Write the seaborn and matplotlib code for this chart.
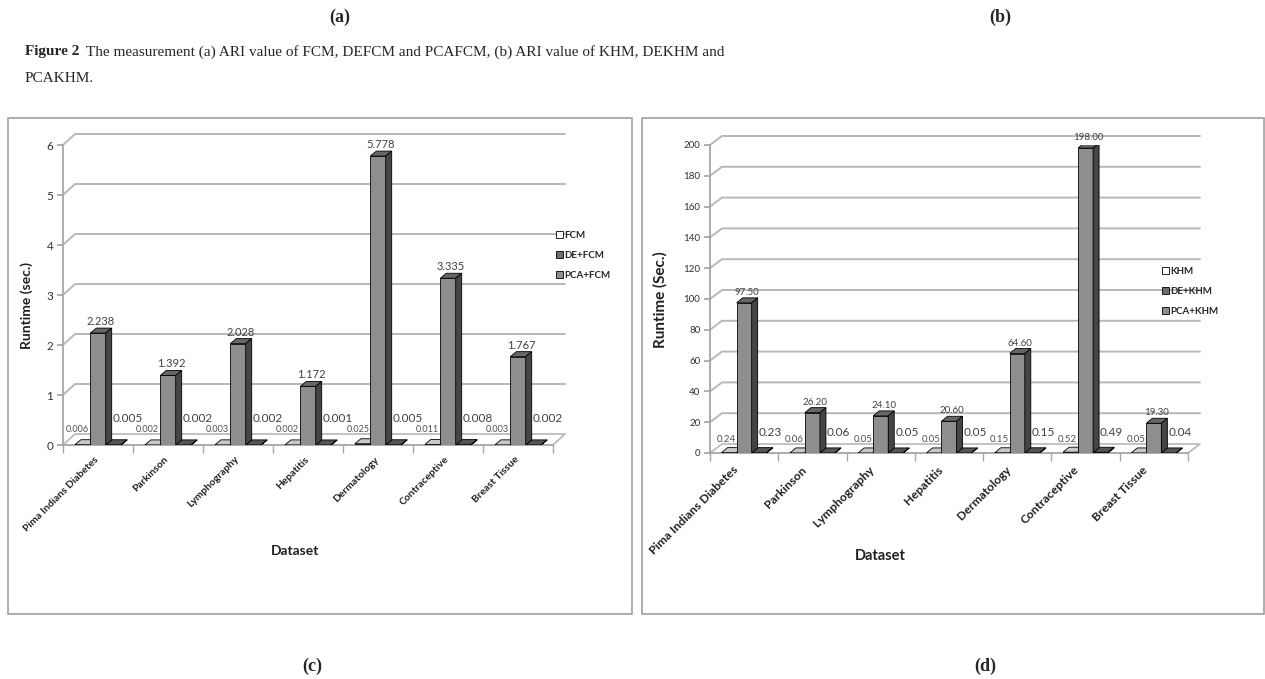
import matplotlib
matplotlib.use('Agg')
import matplotlib.pyplot as plt
import matplotlib.transforms as mtransforms
import seaborn as sns
import pandas as pd
from matplotlib.patches import Polygon, Rectangle, Patch

# datos
datasets = ['Pima Indians Diabetes', 'Parkinson', 'Lymphography', 'Hepatitis',
            'Dermatology', 'Contraceptive', 'Breast Tissue']

fcm = [0.006, 0.002, 0.003, 0.002, 0.025, 0.011, 0.003]
de_fcm = [2.238, 1.392, 2.028, 1.172, 5.778, 3.335, 1.767]
pca_fcm = [0.005, 0.002, 0.002, 0.001, 0.005, 0.008, 0.002]

khm = [0.24, 0.06, 0.05, 0.05, 0.15, 0.52, 0.05]
de_khm = [97.50, 26.20, 24.10, 20.60, 64.60, 198.00, 19.30]
pca_khm = [0.23, 0.06, 0.05, 0.05, 0.15, 0.49, 0.04]

W, H = 1265, 679
GRIS_EJE = '#a6a6a6'
FRENTE = ['#e0e0e0', '#8e8e8e', '#7a7a7a']
TAPA = ['#c8c8c8', '#666666', '#555555']
LADO = ['#b5b5b5', '#454545', '#3c3c3c']

sns.set_theme(style='white')
plt.rcParams['font.family'] = ['Lato', 'DejaVu Sans']


def panel(fig, caja, nombres, series, ytop, yticks, fmt, cfg):
    x0, y0, x1, y1 = caja
    ax = fig.add_axes([x0 / W, 1 - y0 / H, (x1 - x0) / W, (y0 - y1) / H])
    df = pd.DataFrame({
        'dataset': datasets * 3,
        'metodo': sum([[n] * len(datasets) for n in nombres], []),
        'runtime': sum(series, []),
    })
    sns.barplot(data=df, x='dataset', y='runtime', hue='metodo', order=datasets,
                hue_order=nombres, palette=FRENTE, saturation=1, width=0.66,
                edgecolor='black', linewidth=0.6, ax=ax, legend=False, zorder=3)
    ax.set_xlim(-0.5, len(datasets) - 0.5)
    ax.set_ylim(0, ytop)

    # conversión píxel -> datos para el efecto 3D
    px_x = len(datasets) / (x1 - x0)
    px_y = ytop / (y0 - y1)
    ddx, ddy = 6 * px_x, 5 * px_y

    for i, cont in enumerate(ax.containers):
        for j, r in enumerate(cont):
            x, w, h = r.get_x(), r.get_width(), r.get_height()
            z = 3 + (0.1 if i == 1 else 0)
            ax.add_patch(Polygon([(x, h), (x + ddx, h + ddy), (x + w + ddx, h + ddy), (x + w, h)],
                                 closed=True, fc=TAPA[i], ec='black', lw=0.6, zorder=z))
            ax.add_patch(Polygon([(x + w, 0), (x + w + ddx, ddy), (x + w + ddx, h + ddy), (x + w, h)],
                                 closed=True, fc=LADO[i], ec='black', lw=0.6, zorder=z))
            r.set_zorder(z)

    de = ax.containers[1]
    for j, r in enumerate(de):
        x, w, h = r.get_x(), r.get_width(), r.get_height()
        ax.annotate(fmt.format(series[1][j]), xy=(x + w / 2, h), xytext=(3, 6),
                    textcoords='offset pixels', ha='center', va='bottom',
                    fontsize=cfg['fs_de'], color='#404040')
        ax.annotate(fmt.format(series[0][j]), xy=(x, 0), xytext=(-1, cfg['dy_izq']),
                    textcoords='offset pixels', ha='right', va='center',
                    fontsize=cfg['fs_izq'], color='#505050')
        ax.annotate(fmt.format(series[2][j]), xy=(x + w, 0), xytext=(7, cfg['dy_der']),
                    textcoords='offset pixels', ha='left', va='center',
                    fontsize=cfg['fs_der'], color='#404040')

    # pared del fondo con líneas de rejilla desplazadas
    gx, gy = 12 * px_x, cfg['gy'] * px_y
    xa, xb = -0.5, len(datasets) - 0.5
    for v in yticks[1:]:
        ax.plot([xa, xa + gx, xb + gx], [v, v + gy, v + gy], color='#b8b8b8',
                lw=1.4, clip_on=False, zorder=1)
    ax.plot([xa, xa + gx, xb + gx, xb], [0, gy, gy, 0], color='#b8b8b8',
            lw=1.2, clip_on=False, zorder=1)

    for s in ['top', 'right']:
        ax.spines[s].set_visible(False)
    for s in ['left', 'bottom']:
        ax.spines[s].set_color(GRIS_EJE)
        ax.spines[s].set_linewidth(1.3)

    ax.set_yticks(yticks)
    ax.set_yticklabels([str(t) for t in yticks])
    ax.tick_params(axis='y', length=4, color=GRIS_EJE, labelsize=cfg['fs_y'],
                   labelcolor='#303030', pad=3, left=True)
    ax.set_xticks(range(len(datasets)))
    ax.set_xticklabels(datasets, rotation=45, ha='right', rotation_mode='anchor',
                       fontsize=cfg['fs_x'], fontweight='bold', color='#202020')
    ax.tick_params(axis='x', length=0, pad=cfg['pad_x'])
    desplaza = mtransforms.ScaledTranslation(cfg['dx_x'] / 100, 0, fig.dpi_scale_trans)
    for lab in ax.get_xticklabels():
        lab.set_transform(lab.get_transform() + desplaza)
    ax.set_xticks([k - 0.5 for k in range(len(datasets) + 1)], minor=True)
    ax.tick_params(axis='x', which='minor', length=6, color=GRIS_EJE, bottom=True)
    ax.set_xlabel('')
    ax.set_ylabel('')
    ax.grid(False)
    return ax


fig = plt.figure(figsize=(W / 100, H / 100), dpi=100)

ax1 = panel(fig, (63, 445, 553, 145), ['FCM', 'DE+FCM', 'PCA+FCM'],
            [fcm, de_fcm, pca_fcm], 6, [0, 1, 2, 3, 4, 5, 6], '{:.3f}',
            dict(fs_de=8, fs_izq=6.5, fs_der=8.5, dy_izq=16, dy_der=27, gy=11,
                 fs_y=8.5, fs_x=7.4, pad_x=7, dx_x=-4))
ax2 = panel(fig, (710, 453, 1188, 145), ['KHM', 'DE+KHM', 'PCA+KHM'],
            [khm, de_khm, pca_khm], 200, list(range(0, 201, 20)), '{:.2f}',
            dict(fs_de=7, fs_izq=7, fs_der=8.5, dy_izq=13, dy_der=20, gy=9,
                 fs_y=7, fs_x=8.7, pad_x=8, dx_x=-12))

# leyendas
for ax, nombres, pos in [(ax1, ['FCM', 'DE+FCM', 'PCA+FCM'], (551, 226)),
                         (ax2, ['KHM', 'DE+KHM', 'PCA+KHM'], (1157, 262))]:
    manijas = [Patch(fc='white', ec='black', lw=0.6, label=nombres[0]),
               Patch(fc='#6e6e6e', ec='black', lw=0.6, label=nombres[1]),
               Patch(fc='#8e8e8e', ec='black', lw=0.6, label=nombres[2])]
    ax.legend(handles=manijas, loc='upper left', bbox_to_anchor=(pos[0] / W, 1 - pos[1] / H),
              bbox_transform=fig.transFigure, frameon=False, handlelength=0.7,
              handleheight=0.7, handletextpad=0.2, labelspacing=1.15, borderpad=0,
              prop=dict(family='Lato', weight='bold', size=7))

# títulos de ejes
fig.text(27 / W, 1 - 306 / H, 'Runtime (sec.)', rotation=90, ha='center', va='center',
         fontsize=10, fontweight='bold', color='#202020')
fig.text(295 / W, 1 - 551 / H, 'Dataset', ha='center', va='center',
         fontsize=10, fontweight='bold', color='#202020')
fig.text(660 / W, 1 - 300 / H, 'Runtime (Sec.)', rotation=90, ha='center', va='center',
         fontsize=11, fontweight='bold', color='#202020')
fig.text(880 / W, 1 - 556 / H, 'Dataset', ha='center', va='center',
         fontsize=10.5, fontweight='bold', color='#202020')

# marcos de los paneles
for (a, b, c, d) in [(8, 118, 632, 614), (642, 118, 1264, 614)]:
    fig.add_artist(Rectangle((a / W, 1 - d / H), (c - a) / W, (d - b) / H,
                             transform=fig.transFigure, fill=False, ec='#a0a0a0', lw=1.2))

# texto de la página
serif = ['Liberation Serif', 'DejaVu Serif']
fig.text(340 / W, 1 - 17 / H, '(a)', ha='center', va='center', family=serif,
         fontsize=13, fontweight='bold')
fig.text(1000 / W, 1 - 17 / H, '(b)', ha='center', va='center', family=serif,
         fontsize=13, fontweight='bold')
fig.text(312 / W, 1 - 666 / H, '(c)', ha='center', va='center', family=serif,
         fontsize=13, fontweight='bold')
fig.text(985 / W, 1 - 666 / H, '(d)', ha='center', va='center', family=serif,
         fontsize=13, fontweight='bold')

t = fig.text(25 / W, 1 - 52 / H, 'Figure 2', ha='left', va='center', family=serif,
             fontsize=11, fontweight='bold')
rend = fig.canvas.get_renderer()
bb = t.get_window_extent(renderer=rend)
fig.text((bb.x1 + 7) / W, 1 - 52 / H,
         'The measurement (a) ARI value of FCM, DEFCM and PCAFCM, (b) ARI value of KHM, DEKHM and',
         ha='left', va='center', family=serif, fontsize=11)
fig.text(25 / W, 1 - 79 / H, 'PCAKHM.', ha='left', va='center', family=serif, fontsize=11)

fig.savefig('out.png', dpi=100)
plt.close(fig)
